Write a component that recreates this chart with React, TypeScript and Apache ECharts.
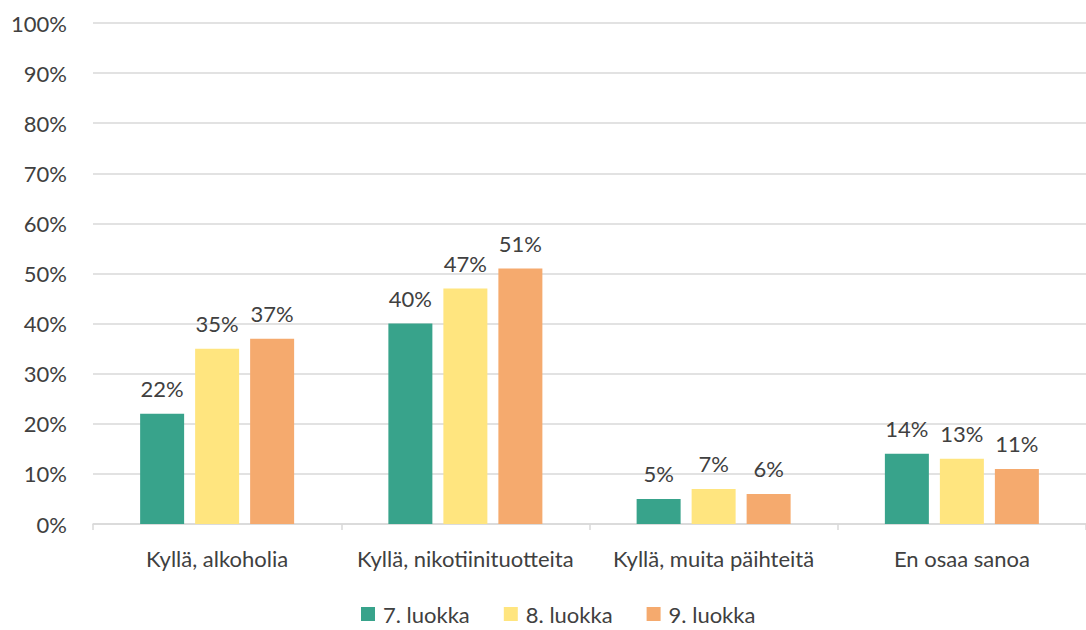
import React, { useEffect, useRef } from "react";
import * as echarts from "echarts";

const categories = ["Kyllä, alkoholia", "Kyllä, nikotiinituotteita", "Kyllä, muita päihteitä", "En osaa sanoa"];
const seriesNames = ["7. luokka", "8. luokka", "9. luokka"];
const grade7 = [22, 40, 5, 14];
const grade8 = [35, 47, 7, 13];
const grade9 = [37, 51, 6, 11];
const colors = ["#38A38B", "#FFE57F", "#F5AA6E"];

const FONT = "Lato, 'Open Sans', sans-serif";
const FS = 22;

export default function App() {
  const ref = useRef<HTMLDivElement>(null);
  useEffect(() => {
    if (!ref.current) return;
    const chart = echarts.init(ref.current, null, { renderer: "svg" });
    const values = [grade7, grade8, grade9];
    chart.setOption({
      animation: false,
      backgroundColor: "#ffffff",
      textStyle: { fontFamily: FONT, color: "#404040" },
      grid: { left: 93, right: -2, top: 23, bottom: 106 },
      legend: {
        left: 356,
        top: 598,
        itemWidth: 14,
        itemHeight: 14,
        itemGap: 34,
        icon: "rect",
        textStyle: { fontSize: FS, lineHeight: 22, color: "#404040", fontFamily: FONT, padding: [0, 0, 0, 3] },
        data: seriesNames,
      },
      xAxis: {
        type: "category",
        data: categories,
        axisLine: { lineStyle: { color: "#d9d9d9", width: 1.5 } },
        axisTick: { show: true, length: 6, lineStyle: { color: "#d9d9d9", width: 1.5 } },
        axisLabel: { fontSize: FS, color: "#404040", margin: 23, interval: 0, fontFamily: FONT },
      },
      yAxis: {
        type: "value",
        min: 0,
        max: 100,
        interval: 10,
        axisLine: { show: false },
        axisTick: { show: false },
        splitLine: { lineStyle: { color: "#d9d9d9", width: 1.5 } },
        axisLabel: { fontSize: FS, color: "#404040", margin: 26, formatter: "{value}%", fontFamily: FONT },
      },
      series: seriesNames.map((name, i) => ({
        name,
        type: "bar",
        data: values[i],
        barWidth: 44,
        barGap: "25%",
        itemStyle: { color: colors[i] },
        label: {
          show: true,
          position: "top",
          distance: 14,
          formatter: "{c}%",
          fontSize: FS,
          color: "#404040",
          fontFamily: FONT,
        },
      })),
    });
    return () => chart.dispose();
  }, []);
  return <div ref={ref} style={{ position: "fixed", left: 0, top: 0, width: 1086, height: 630 }} />;
}
